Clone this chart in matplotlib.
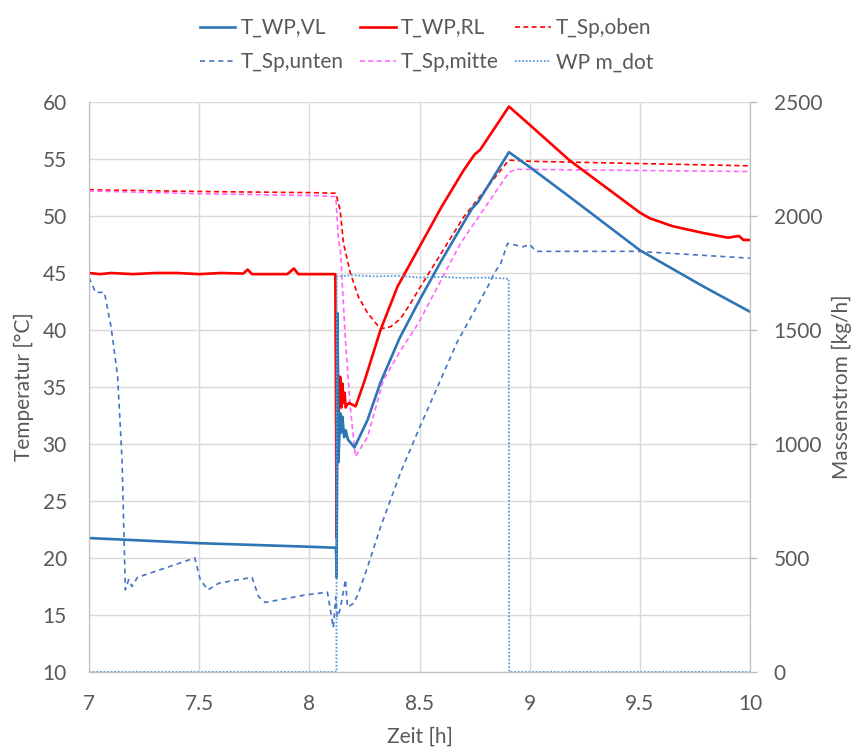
import matplotlib.pyplot as plt
from matplotlib.lines import Line2D

# colours as in the excel chart
blue = '#2E75B6'
red = '#FF0000'
pink = '#FF66FF'
dblue = '#4472C4'
lblue = '#5B9BD5'
grey = '#595959'

# T_WP,VL
t_vl = [7.0, 7.5, 7.98, 8.12, 8.122, 8.124, 8.127, 8.132, 8.14, 8.145, 8.15, 8.158,
        8.165, 8.175, 8.205, 8.264, 8.323, 8.41, 8.505, 8.6, 8.7, 8.74, 8.765, 8.906,
        9.0, 9.18, 9.5, 9.79, 10.0]
vl = [21.75, 21.3, 21.0, 20.9, 20.1, 18.3, 41.5, 28.4, 32.7, 31.0, 32.4, 30.6,
      31.2, 30.4, 29.7, 32.1, 35.4, 39.3, 42.8, 46.1, 49.4, 50.7, 51.2, 55.6,
      54.3, 51.7, 47.0, 43.8, 41.6]

# T_WP,RL
t_rl = [7.0, 7.05, 7.1, 7.2, 7.3, 7.4, 7.5, 7.6, 7.7, 7.72, 7.74, 7.8, 7.9, 7.93,
        7.95, 8.0, 8.1, 8.118, 8.124, 8.128, 8.132, 8.14, 8.145, 8.15, 8.155, 8.16,
        8.165, 8.17, 8.18, 8.21, 8.25, 8.323, 8.4, 8.5, 8.6, 8.7, 8.75, 8.775, 8.906,
        9.0, 9.18, 9.5, 9.545, 9.65, 9.79, 9.9, 9.95, 9.97, 10.0]
rl = [45.0, 44.9, 45.0, 44.9, 45.0, 45.0, 44.9, 45.0, 44.95, 45.3, 44.9, 44.9, 44.9, 45.4,
      44.9, 44.9, 44.9, 44.9, 21.75, 40.0, 32.1, 35.9, 33.2, 35.3, 33.6, 34.5,
      33.2, 33.4, 33.6, 33.3, 35.5, 40.0, 43.8, 47.3, 50.8, 54.0, 55.4, 55.8, 59.6,
      58.0, 54.9, 50.3, 49.8, 49.1, 48.5, 48.1, 48.25, 47.9, 47.9]

# T_Sp,oben
t_ob = [7.0, 7.5, 8.0, 8.12, 8.14, 8.155, 8.186, 8.223, 8.264, 8.323, 8.37, 8.414,
        8.455, 8.495, 8.7, 8.905, 9.0, 10.0]
oben = [52.3, 52.15, 52.05, 52.0, 50.5, 47.6, 45.0, 42.9, 41.5, 40.1, 40.3, 41.0,
        42.2, 43.5, 49.9, 54.9, 54.8, 54.4]

# T_Sp,mitte
t_mi = [7.0, 7.5, 8.0, 8.12, 8.132, 8.141, 8.164, 8.186, 8.209, 8.264, 8.336, 8.414,
        8.495, 8.686, 8.905, 8.936, 10.0]
mitte = [52.2, 51.95, 51.8, 51.7, 47.9, 47.0, 39.1, 33.2, 28.9, 30.6, 35.6, 38.2,
         40.6, 47.6, 53.8, 54.1, 53.9]

# T_Sp,unten
t_un = [7.0, 7.03, 7.07, 7.1, 7.13, 7.15, 7.165, 7.18, 7.195, 7.22, 7.48, 7.505,
        7.54, 7.59, 7.74, 7.77, 7.8, 7.98, 8.082, 8.109, 8.12, 8.127, 8.14, 8.164,
        8.173, 8.2, 8.223, 8.264, 8.323, 8.414, 8.495, 8.67, 8.81, 8.84, 8.87, 8.9,
        8.97, 9.0, 9.03, 9.49, 10.0]
unten = [44.6, 43.3, 43.3, 40.3, 35.9, 28.6, 17.2, 18.1, 17.5, 18.3, 20.0, 18.1,
         17.2, 17.8, 18.3, 16.6, 16.1, 16.75, 17.0, 13.9, 16.6, 14.8, 15.5, 18.1,
         15.7, 16.0, 16.9, 19.2, 22.7, 27.5, 31.2, 38.9, 43.8, 45.0, 45.9, 47.6,
         47.3, 47.5, 46.9, 46.9, 46.3]

# WP m_dot (right axis)
t_md = [7.0, 8.123, 8.125, 8.2, 8.3, 8.4, 8.5, 8.6, 8.7, 8.8, 8.9, 8.905, 8.907, 10.0]
mdot = [0, 0, 1735, 1740, 1735, 1738, 1730, 1733, 1728, 1730, 1725, 1725, 0, 0]

plt.rcParams['font.family'] = ['Lato', 'DejaVu Sans']

fig = plt.figure(figsize=(8.54, 7.49), dpi=100)
ax = fig.add_axes([89 / 854, 1 - 672 / 749, (750 - 89) / 854, (672 - 102) / 749])
ax2 = ax.twinx()

ax.plot(t_vl, vl, color=blue, lw=1.9, label='T_WP,VL', zorder=5)
ax.plot(t_rl, rl, color=red, lw=1.9, label='T_WP,RL', zorder=4)
ax.plot(t_ob, oben, color=red, lw=1.2, ls=(0, (3, 2)), label='T_Sp,oben', zorder=3)
ax.plot(t_un, unten, color=dblue, lw=1.2, ls=(0, (3, 2.5)), label='T_Sp,unten', zorder=3)
ax.plot(t_mi, mitte, color=pink, lw=1.2, ls=(0, (3, 2)), label='T_Sp,mitte', zorder=3)
ax2.plot(t_md, mdot, color=lblue, lw=1.3, ls=(0, (1, 1)), label='WP m_dot')

ax.set_xlim(7, 10)
ax.set_ylim(10, 60)
ax2.set_ylim(0, 2500)
ax.set_xticks([7, 7.5, 8, 8.5, 9, 9.5, 10])
ax.set_xticklabels(['7', '7.5', '8', '8.5', '9', '9.5', '10'])
ax.set_yticks(range(10, 61, 5))
ax2.set_yticks(range(0, 2501, 500))
ax.grid(True, color='#D9D9D9', lw=1)
ax.set_axisbelow(True)

ax.tick_params(length=0, labelsize=15, colors=grey, pad=16)
ax2.tick_params(length=5, width=1, direction='out', color='#BFBFBF',
                labelsize=15, labelcolor=grey, pad=12)
for a in (ax, ax2):
    a.spines['top'].set_visible(False)
    for s in ('left', 'right', 'bottom'):
        a.spines[s].set_color('#BFBFBF')

ax.set_xlabel('Zeit [h]', fontsize=15, color=grey, labelpad=9)
ax.set_ylabel('Temperatur [°C]', fontsize=15, color=grey, labelpad=6)
ax2.set_ylabel('Massenstrom [kg/h]', fontsize=15, color=grey, labelpad=7)

# legend rows: VL RL oben / unten mitte m_dot
h = [Line2D([], [], color=blue, lw=1.9), Line2D([], [], color=dblue, lw=1.2, ls=(0, (3, 2.5))),
     Line2D([], [], color=red, lw=1.9), Line2D([], [], color=pink, lw=1.2, ls=(0, (3, 2))),
     Line2D([], [], color=red, lw=1.2, ls=(0, (3, 2))), Line2D([], [], color=lblue, lw=1.3, ls=(0, (1, 1)))]
lab = ['T_WP,VL', 'T_Sp,unten', 'T_WP,RL', 'T_Sp,mitte', 'T_Sp,oben', 'WP m_dot']
leg = fig.legend(h, lab, loc='upper center', bbox_to_anchor=(0.4995, 1.001), ncol=3, frameon=False,
                 fontsize=15, handlelength=1.7, handletextpad=0.25, columnspacing=0.8,
                 labelspacing=0.69)
for t in leg.get_texts():
    t.set_color(grey)

fig.savefig('out.png', dpi=100)
